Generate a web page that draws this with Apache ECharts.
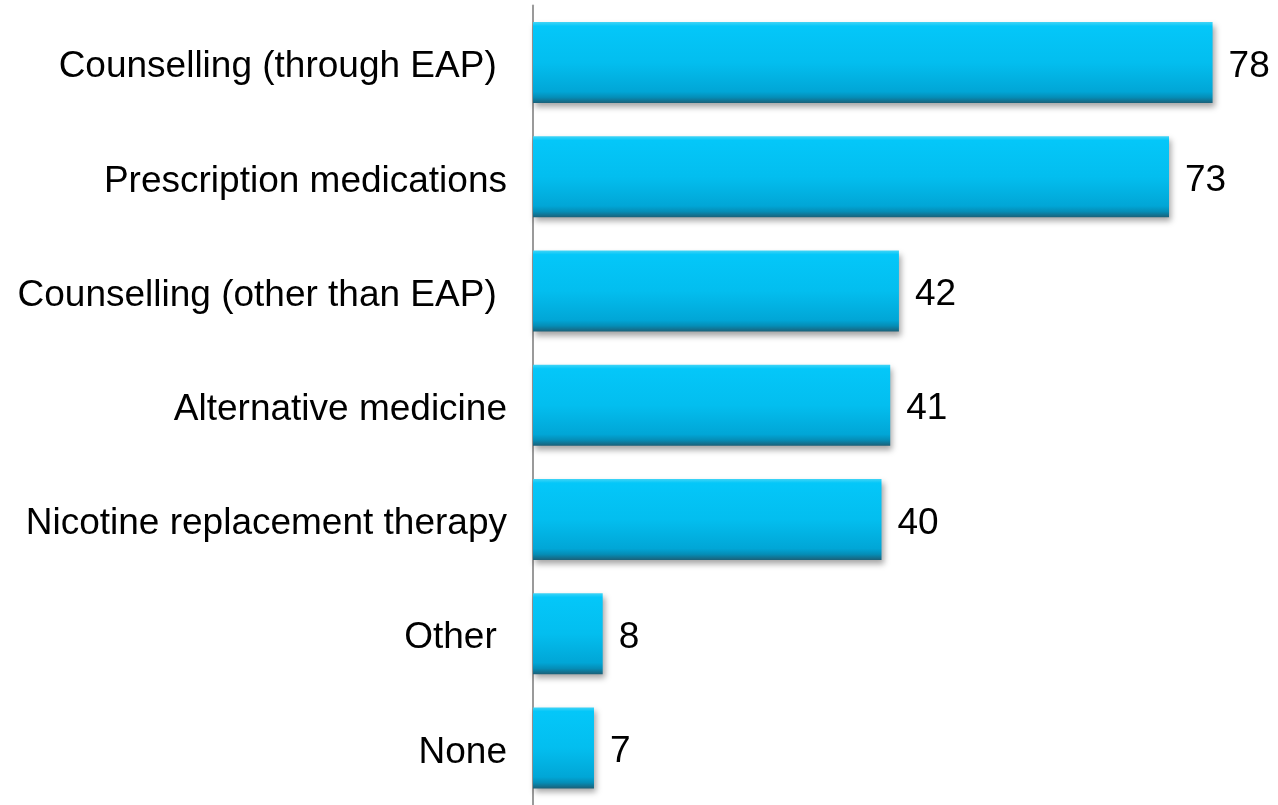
<!DOCTYPE html>
<html>
<head>
<meta charset="utf-8">
<script src="https://cdn.jsdelivr.net/npm/echarts@6/dist/echarts.min.js"></script>
<style>
	html, body { margin: 0; padding: 0; background: #fff; }
	#chart { width: 1278px; height: 805px; }
</style>
</head>
<body>
<div id="chart"></div>
<script>
	// categories top to bottom (trailing spaces as in the original labels)
	const categories = [
		'Counselling (through EAP) ',
		'Prescription medications',
		'Counselling (other than EAP) ',
		'Alternative medicine',
		'Nicotine replacement therapy',
		'Other ',
		'None'
	];
	const values = [78, 73, 42, 41, 40, 8, 7];

	const chart = echarts.init(document.getElementById('chart'));

	const barColor = new echarts.graphic.LinearGradient(0, 0, 0, 1, [
		{ offset: 0, color: '#40d4f6' },
		{ offset: 0.05, color: '#04c7f9' },
		{ offset: 0.5, color: '#03beef' },
		{ offset: 0.86, color: '#01a6d6' },
		{ offset: 0.93, color: '#058db6' },
		{ offset: 1, color: '#1b6078' }
	]);

	const option = {
		animation: false,
		grid: {
			left: 533,
			top: 5.5,
			height: 805,
			right: 48,
			containLabel: false
		},
		xAxis: {
			type: 'value',
			min: 0,
			max: 80,
			show: false,
			splitLine: { show: false }
		},
		yAxis: {
			type: 'category',
			data: categories,
			inverse: true,
			axisTick: { show: false },
			axisLine: {
				lineStyle: { color: '#9a9a9a', width: 2 }
			},
			axisLabel: {
				margin: 26,
				formatter: v => '{c|' + v + '}',
				rich: {
					c: {
						color: '#000',
						fontFamily: '"Liberation Sans", Arial, sans-serif',
						fontSize: 37,
						padding: [9, 0, 0, 0]
					}
				}
			}
		},
		series: [
			{
				type: 'bar',
				data: values,
				barWidth: 81,
				itemStyle: {
					color: barColor,
					shadowColor: 'rgba(0, 0, 0, 0.35)',
					shadowBlur: 6,
					shadowOffsetX: 2,
					shadowOffsetY: 4
				},
				label: {
					show: true,
					position: 'right',
					distance: 16,
					offset: [0, 4],
					color: '#000',
					fontFamily: '"Liberation Sans", Arial, sans-serif',
					fontSize: 37
				}
			}
		]
	};

	chart.setOption(option);
</script>
</body>
</html>
